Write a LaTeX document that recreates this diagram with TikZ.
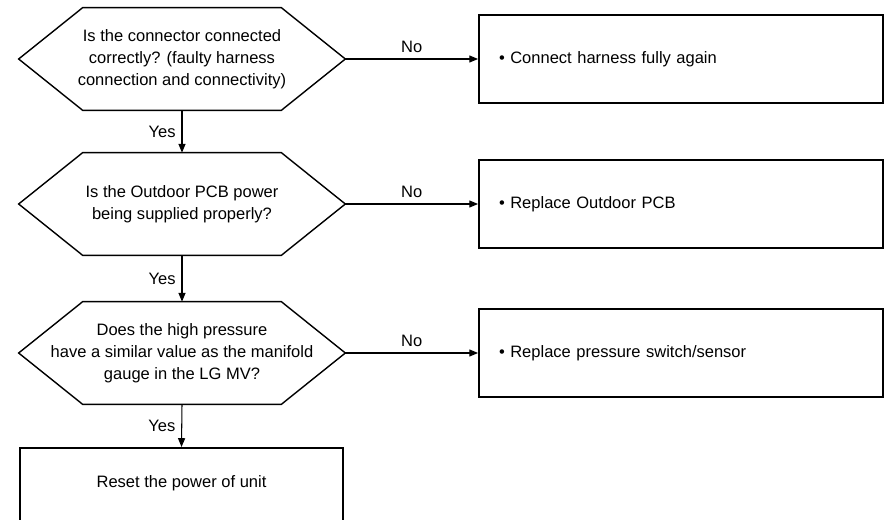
\documentclass[tikz,border=0pt]{standalone}
\usepackage{fontspec}
\setmainfont{Liberation Sans}
\usepackage{tikz}
\usetikzlibrary{arrows.meta,positioning,calc}

\begin{document}
\begin{tikzpicture}[x=0.02cm, y=-0.02cm,
    every node/.style={font=\fontsize{9.4}{12.6}\selectfont},
    decision/.style={minimum width=6.52cm, minimum height=2.04cm, inner sep=0pt, align=center},
    hexline/.style={line width=0.8pt},
    action/.style={draw, line width=1.1pt, minimum width=8.08cm, minimum height=1.75cm,
      inner xsep=0.4cm, text width=7.28cm, align=left},
    arr/.style={-{Triangle[length=5pt,width=4pt]}, line width=0.6pt}]
  \clip (0,0) rectangle (886,520);
  % Questions
  \node[decision] (q1) at (182,59) {Is the connector connected\\correctly? (faulty harness\\connection and connectivity)};
  \node[decision] (q2) at (182,204) {Is the Outdoor PCB power\\being supplied properly?};
  \node[decision] (q3) at (182,353) {Does the high pressure\\have a similar value as the manifold\\gauge in the LG MV?};
  \foreach \q in {q1,q2,q3}
    \draw[hexline] (\q.west) -- ([xshift=1.28cm]\q.north west) -- ([xshift=-1.28cm]\q.north east)
      -- (\q.east) -- ([xshift=-1.28cm]\q.south east) -- ([xshift=1.28cm]\q.south west) -- cycle;
  % Actions
  \node[action] (r1) at (681,59) {\textbullet{} Connect harness fully again};
  \node[action] (r2) at (681,204) {\textbullet{} Replace Outdoor PCB};
  \node[action] (r3) at (681,353) {\textbullet{} Replace pressure switch/sensor};
  \node[draw, line width=1.1pt, anchor=north, minimum width=6.46cm, minimum height=1.72cm,
    text depth=0.38cm] (reset) at (181.5,447) {Reset the power of unit};
  % Arrows
  \draw[arr] (q1.east) -- node[midway, above] {No} (r1.west);
  \draw[arr] (q2.east) -- node[midway, above] {No} (r2.west);
  \draw[arr] (q3.east) -- node[midway, above] {No} (r3.west);
  \draw[arr] (q1.south) -- node[midway, left] {Yes} (q2.north);
  \draw[arr] (q2.south) -- node[midway, left] {Yes} (q3.north);
  \draw[arr] (q3.south) -- node[midway, left] {Yes} (reset.north);
\end{tikzpicture}
\end{document}
